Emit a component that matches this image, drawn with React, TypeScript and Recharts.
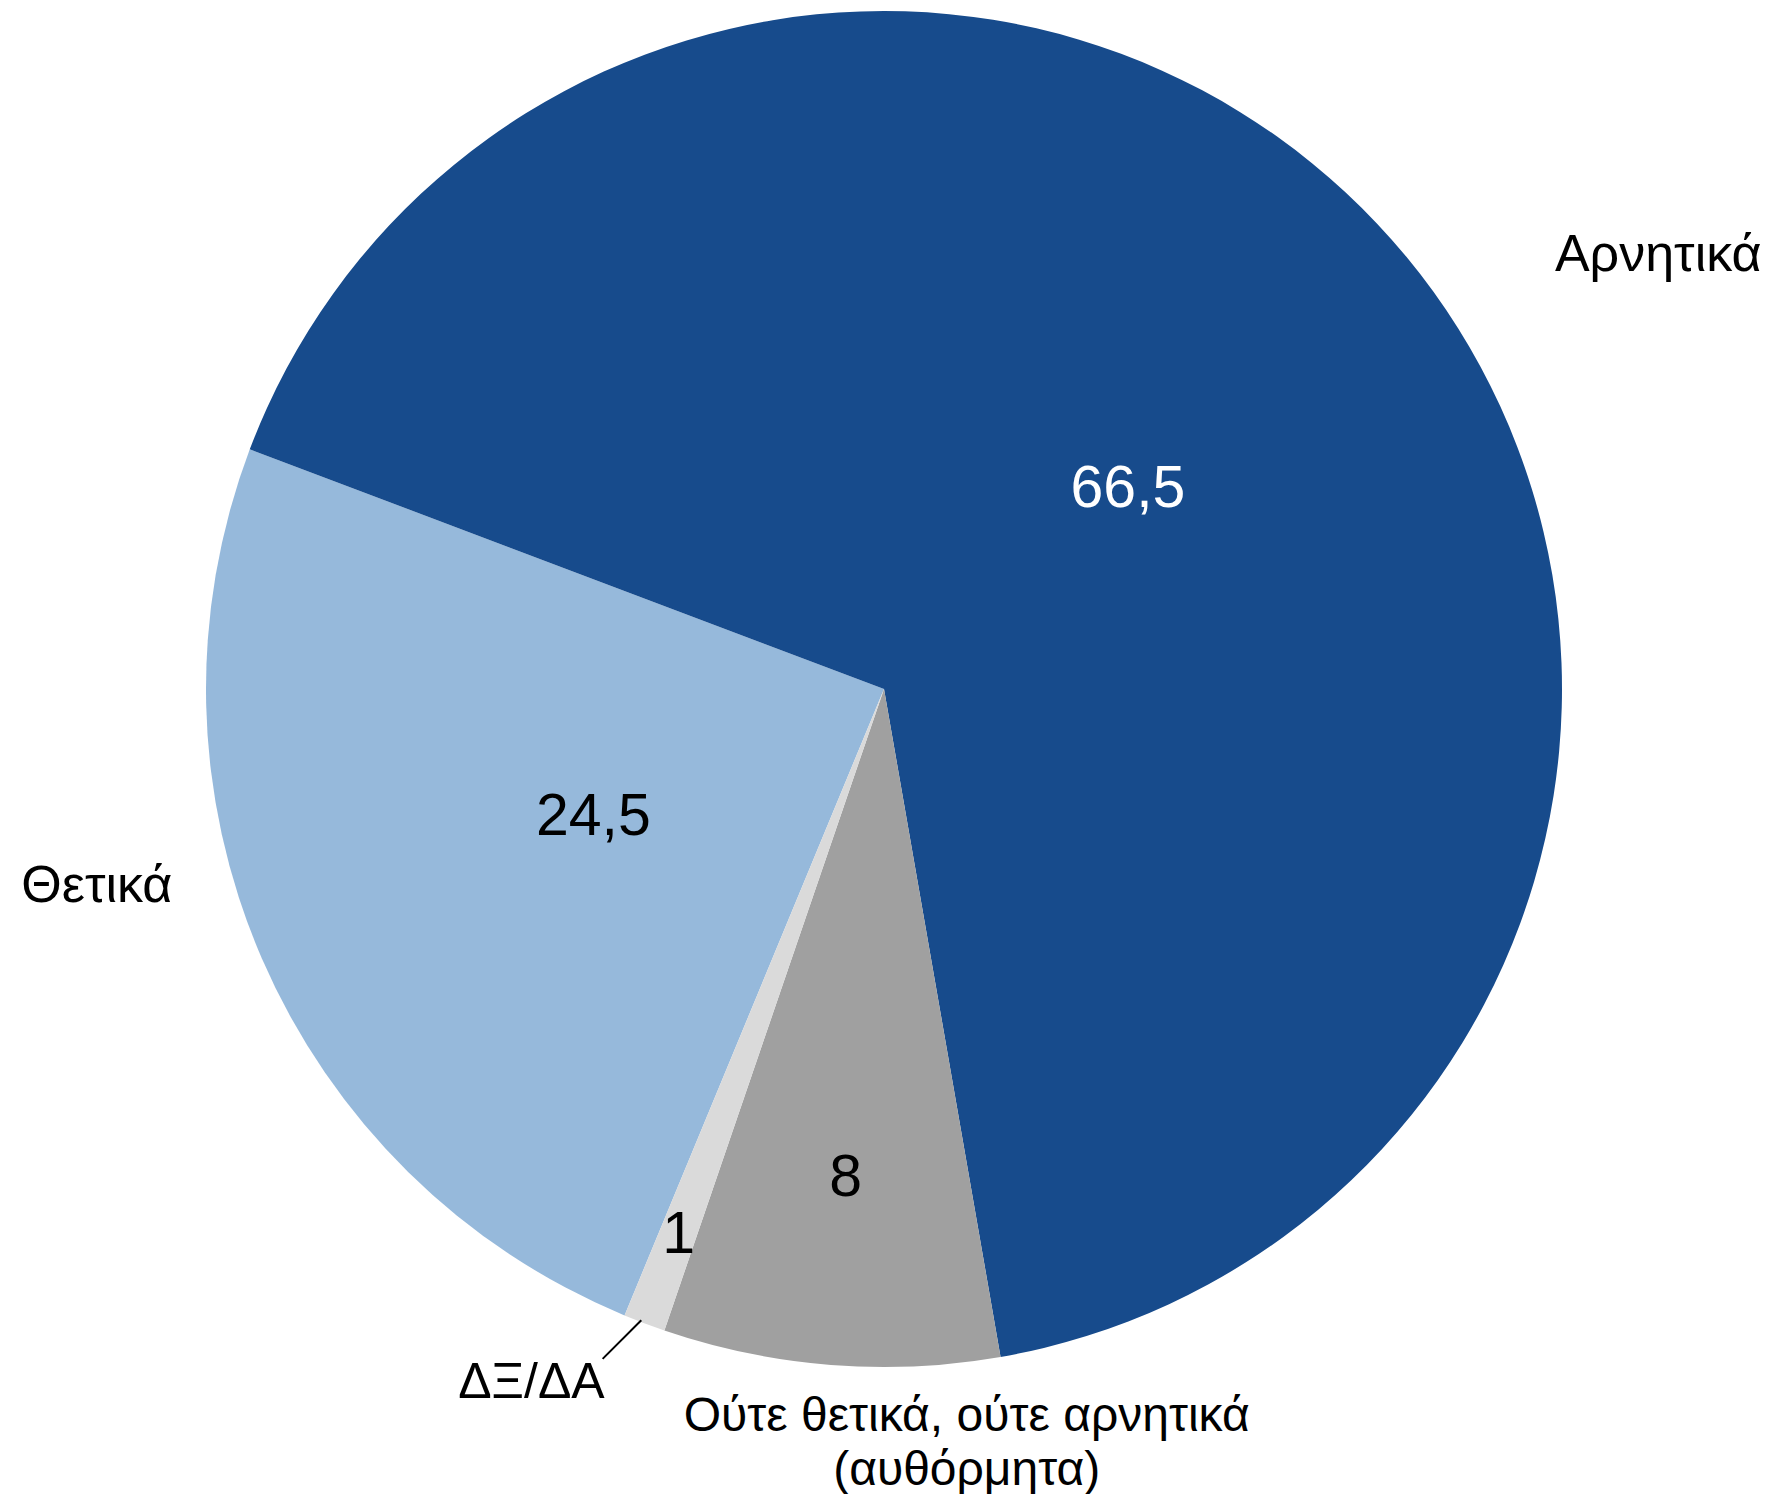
import { Pie, PieChart, Cell } from "recharts";

// slices in drawing order (clockwise)
const categories = ["Θετικά", "Αρνητικά", "Ούτε θετικά, ούτε αρνητικά (αυθόρμητα)", "ΔΞ/ΔΑ"];
const values = [24.5, 66.5, 8, 1];
const valueLabels = ["24,5", "66,5", "8", "1"];
const colors = ["#96B9DB", "#174B8C", "#A0A0A0", "#DADADA"];

const data = categories.map((name, i) => ({ name, value: values[i], text: valueLabels[i] }));

// label placement, relative to the pie (units of outer radius)
const placement: Record<string, { r: number; lx: number; ly: number; lines: string[]; lead?: number[] }> = {
  "Θετικά": { r: 0.467, lx: -1.161, ly: 0.288, lines: ["Θετικά"] },
  "Αρνητικά": { r: 0.467, lx: 1.142, ly: -0.643, lines: ["Αρνητικά"] },
  "Ούτε θετικά, ούτε αρνητικά (αυθόρμητα)": {
    r: 0.72,
    lx: 0.122,
    ly: 1.07,
    lines: ["Ούτε θετικά, ούτε αρνητικά", "(αυθόρμητα)"],
  },
  "ΔΞ/ΔΑ": { r: 0.857, lx: -0.52, ly: 1.021, lines: ["ΔΞ/ΔΑ"], lead: [-0.415, 0.988, -0.358, 0.931] },
};

const RAD = Math.PI / 180;
const FONT = "'Liberation Sans', Arial, Helvetica, sans-serif";

const renderLabel = (props: any) => {
  const { cx, cy, midAngle, outerRadius, index, name } = props;
  const p = placement[name];
  const vx = cx + outerRadius * p.r * Math.cos(-midAngle * RAD);
  const vy = cy + outerRadius * p.r * Math.sin(-midAngle * RAD);
  const light = index === 1;
  const multi = p.lines.length > 1;
  return (
    <g>
      <text
        x={vx}
        y={vy}
        textAnchor="middle"
        dominantBaseline="central"
        fontSize={59}
        fontFamily={FONT}
        fill={light ? "#ffffff" : "#000000"}
      >
        {data[index].text}
      </text>
      {p.lines.map((line, i) => (
        <text
          key={i}
          x={cx + outerRadius * p.lx}
          y={cy + outerRadius * p.ly + i * 54}
          textAnchor="middle"
          dominantBaseline="central"
          fontSize={multi ? 48 : name === "ΔΞ/ΔΑ" ? 50 : 52}
          fontFamily={FONT}
          fill="#000000"
        >
          {line}
        </text>
      ))}
      {p.lead && (
        <line
          x1={cx + outerRadius * p.lead[0]}
          y1={cy + outerRadius * p.lead[1]}
          x2={cx + outerRadius * p.lead[2]}
          y2={cy + outerRadius * p.lead[3]}
          stroke="#000000"
          strokeWidth={2}
        />
      )}
    </g>
  );
};

export default function App() {
  return (
    <div style={{ position: "absolute", left: 0, top: 0, width: 1773, height: 1494, background: "#ffffff" }}>
      <PieChart width={1773} height={1494}>
        <Pie
          data={data}
          dataKey="value"
          nameKey="name"
          cx={879}
          cy={684}
          outerRadius={678}
          startAngle={247.5}
          endAngle={-112.5}
          stroke="none"
          label={renderLabel}
          labelLine={false}
          isAnimationActive={false}
        >
          {data.map((d, i) => (
            <Cell key={d.name} fill={colors[i]} />
          ))}
        </Pie>
      </PieChart>
    </div>
  );
}
